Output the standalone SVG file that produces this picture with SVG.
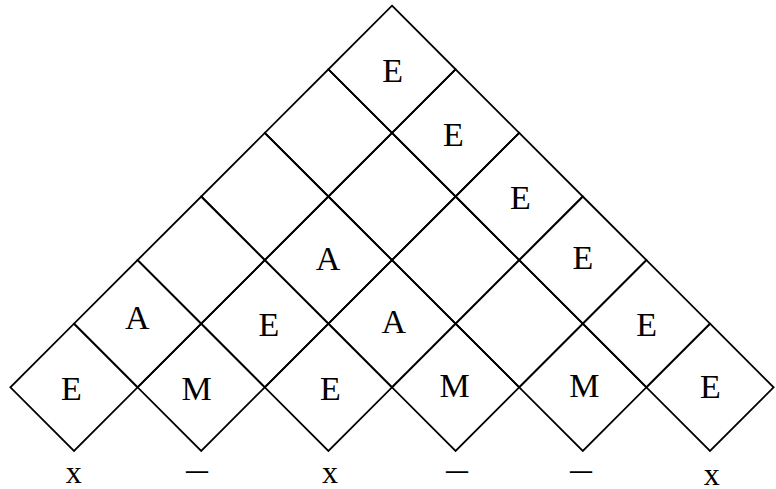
<svg xmlns="http://www.w3.org/2000/svg" xmlns:xlink="http://www.w3.org/1999/xlink" width="776" height="489" viewBox="0 0 776 489">
<style>
.d{fill:none;stroke:#000;stroke-width:1.8;stroke-linejoin:miter}
.t{font-family:"Liberation Serif","Times New Roman",serif;font-size:34px;fill:#000;text-anchor:middle}
.s{font-family:"Liberation Serif","Times New Roman",serif;font-size:32px;fill:#000;text-anchor:middle}
</style>
<defs>
<path id="dm" class="d" d="M0,-63.6 L63.6,0 L0,63.6 L-63.6,0 Z"/>
</defs>
<rect width="776" height="489" fill="#fff"/>
<g id="r0c0"><use xlink:href="#dm" x="74" y="387.3"/><text class="t" x="71.3" y="400">E</text></g>
<g id="r0c1"><use xlink:href="#dm" x="201.2" y="387.3"/><text class="t" x="196.7" y="400">M</text></g>
<g id="r0c2"><use xlink:href="#dm" x="328.4" y="387.3"/><text class="t" x="330.3" y="400">E</text></g>
<g id="r0c3"><use xlink:href="#dm" x="455.6" y="387.3"/><text class="t" x="454.7" y="396.7">M</text></g>
<g id="r0c4"><use xlink:href="#dm" x="582.8" y="387.3"/><text class="t" x="584.3" y="396.7">M</text></g>
<g id="r0c5"><use xlink:href="#dm" x="710" y="387.3"/><text class="t" x="710.3" y="398.3">E</text></g>
<g id="r1c0"><use xlink:href="#dm" x="137.6" y="323.7"/><text class="t" x="137.3" y="329.3">A</text></g>
<g id="r1c1"><use xlink:href="#dm" x="264.8" y="323.7"/><text class="t" x="269" y="336">E</text></g>
<g id="r1c2"><use xlink:href="#dm" x="392" y="323.7"/><text class="t" x="393.7" y="332.7">A</text></g>
<g id="r1c3"><use xlink:href="#dm" x="519.2" y="323.7"/></g>
<g id="r1c4"><use xlink:href="#dm" x="646.4" y="323.7"/><text class="t" x="646.7" y="336">E</text></g>
<g id="r2c0"><use xlink:href="#dm" x="201.2" y="260.1"/></g>
<g id="r2c1"><use xlink:href="#dm" x="328.4" y="260.1"/><text class="t" x="328" y="270">A</text></g>
<g id="r2c2"><use xlink:href="#dm" x="455.6" y="260.1"/></g>
<g id="r2c3"><use xlink:href="#dm" x="582.8" y="260.1"/><text class="t" x="583" y="269.3">E</text></g>
<g id="r3c0"><use xlink:href="#dm" x="264.8" y="196.5"/></g>
<g id="r3c1"><use xlink:href="#dm" x="392" y="196.5"/></g>
<g id="r3c2"><use xlink:href="#dm" x="519.2" y="196.5"/><text class="t" x="520.3" y="209.3">E</text></g>
<g id="r4c0"><use xlink:href="#dm" x="328.4" y="132.9"/></g>
<g id="r4c1"><use xlink:href="#dm" x="455.6" y="132.9"/><text class="t" x="453.3" y="146">E</text></g>
<g id="r5c0"><use xlink:href="#dm" x="392" y="69.3"/><text class="t" x="392.7" y="82">E</text></g>
<g id="labels">
<text class="s" x="73.7" y="482.5">x</text>
<text class="t" x="197" y="480.4" textLength="22" lengthAdjust="spacingAndGlyphs">—</text>
<text class="s" x="330" y="482.7">x</text>
<text class="t" x="457" y="480.4" textLength="22" lengthAdjust="spacingAndGlyphs">—</text>
<text class="t" x="581" y="480.4" textLength="22" lengthAdjust="spacingAndGlyphs">—</text>
<text class="s" x="711.7" y="485">x</text>
</g>
</svg>
